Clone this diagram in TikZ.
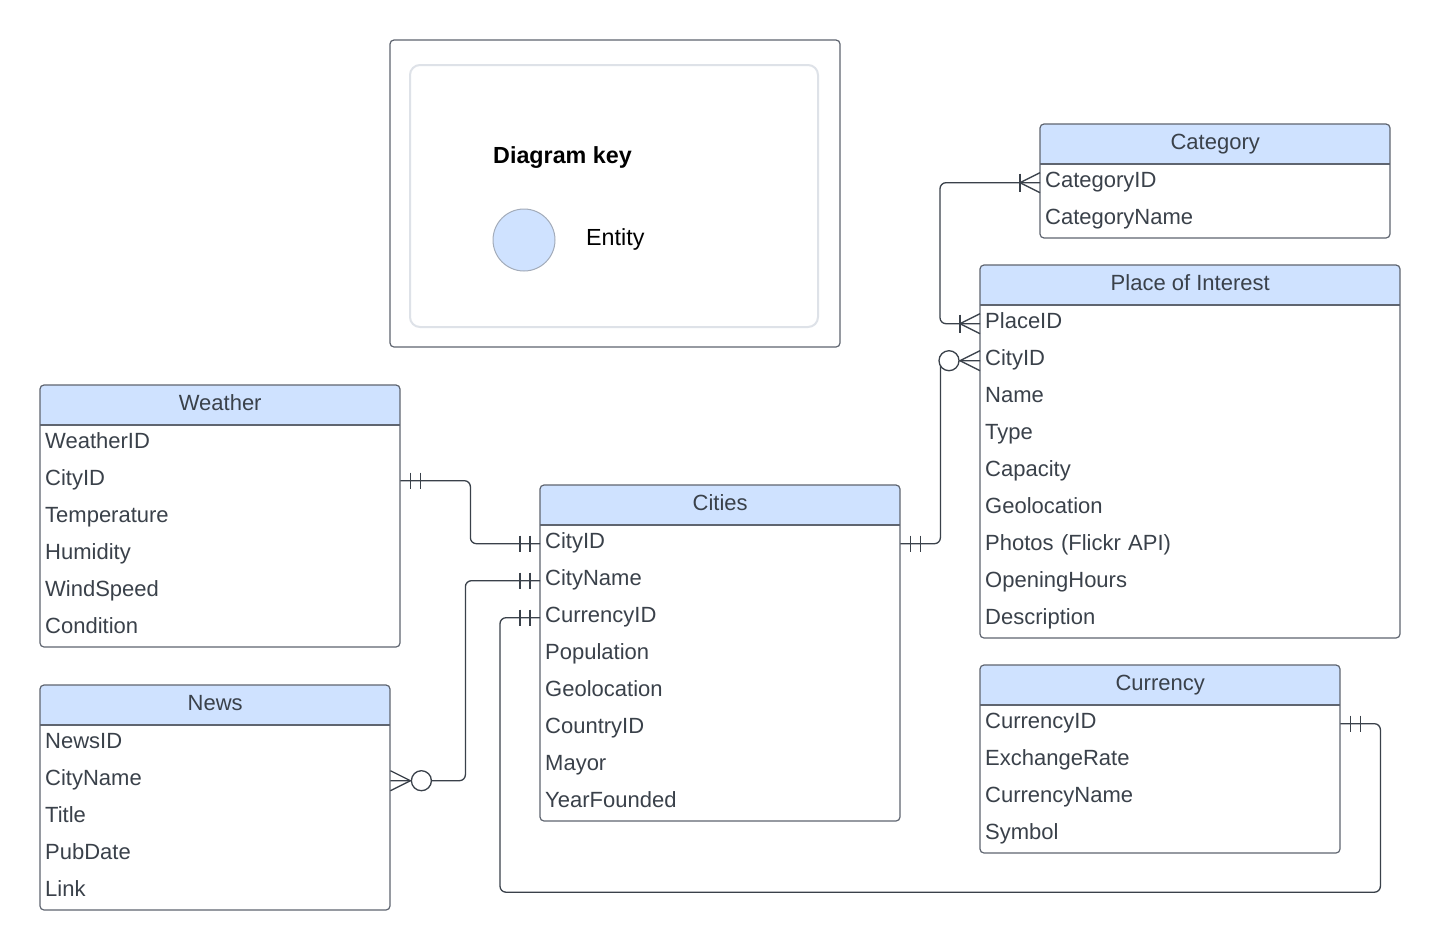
\documentclass[tikz,border=0pt]{standalone}
\usepackage{fontspec}
\setmainfont{Liberation Sans}
\usetikzlibrary{calc}

\definecolor{hdr}{HTML}{CFE2FF}
\definecolor{edgegray}{HTML}{5F6570}
\definecolor{ink}{HTML}{3A414A}
\definecolor{keyin}{HTML}{DEE2E8}
\definecolor{circgray}{HTML}{A3ACBA}

\tikzset{
  x=1pt, y=-1pt,
  txt/.style={font=\fontsize{22}{27}\selectfont, text=ink,
    text height=15.8pt, text depth=5.6pt},
  attr/.style={txt, inner xsep=5pt, inner ysep=0pt, minimum height=37pt, align=left},
  etitle/.style={txt, inner sep=0pt, minimum height=40pt},
  frame/.style={draw=edgegray, line width=1.2pt},
  conn/.style={draw=ink, line width=1.3pt},
  link/.style={conn, rounded corners=6pt},
}

% entity table: #1 name, #2 left x, #3 top y, #4 width, #5 title, #6 attributes
\newcommand\erentity[6]{%
  \pgfmathsetlengthmacro\erw{#4-10}%
  \foreach \r [count=\i] in {#6}{%
    \node[attr, text width=\erw, anchor=north west] (#1-\i) at (#2,{#3+40+37*(\i-1)}) {\r};
    \xdef\ercount{\i}}%
  \pgfmathsetmacro\erbot{#3+40+37*\ercount}%
  \begin{scope}
    \clip[rounded corners=4pt] (#2,#3) rectangle ({#2+#4},\erbot);
    \fill[hdr] (#2,#3) rectangle ({#2+#4},{#3+40});
  \end{scope}
  \node[etitle, minimum width=#4, anchor=north west] (#1) at (#2,#3) {#5};
  \draw[frame] (#2,{#3+40}) -- ({#2+#4},{#3+40});
  \draw[frame, rounded corners=4pt] (#2,#3) rectangle ({#2+#4},\erbot);
}

% relationship end marks: #1 anchor on the table edge, #2 direction (1 = right, -1 = left)
\newcommand\twobar[2]{%
  \draw[conn] ([xshift={#2*10}]#1) ++(0,-8) -- ++(0,16)
              ([xshift={#2*20}]#1) ++(0,-8) -- ++(0,16);}
\newcommand\onebar[2]{%
  \draw[conn] ([xshift={#2*20}]#1) ++(0,-9) -- ++(0,18);}
\newcommand\crowfoot[2]{%
  \draw[conn] ([xshift={#2*20}]#1) -- ([yshift=10pt]#1)
              ([xshift={#2*20}]#1) -- ([yshift=-10pt]#1);}
\newcommand\zeroring[2]{%
  \draw[conn, fill=white] ([xshift={#2*31}]#1) circle[radius=10pt];}

\begin{document}
\begin{tikzpicture}
\useasboundingbox (0,0) rectangle (1440,951);
\fill[white] (0,0) rectangle (1440,951);

% diagram key
\draw[frame, rounded corners=4pt] (390,40) rectangle (840,347);
\draw[keyin, line width=2pt, rounded corners=10pt] (410,65) rectangle (818,327);
\node[font=\fontsize{23.3}{28}\selectfont\bfseries, anchor=base west, inner sep=0pt]
  (keytitle) at (493,163) {Diagram key};
\node[circle, fill=hdr, draw=circgray, line width=1pt, minimum size=62pt, inner sep=0pt]
  (keycirc) at (524,240) {};
\node[font=\fontsize{23.3}{28}\selectfont, anchor=base west, inner sep=0pt]
  (keyentity) at (586,245) {Entity};

% entities
\erentity{weather}{40}{385}{360}{Weather}{WeatherID,CityID,Temperature,Humidity,WindSpeed,Condition}
\erentity{news}{40}{685}{350}{News}{NewsID,CityName,Title,PubDate,Link}
\erentity{cities}{540}{485}{360}{Cities}{CityID,CityName,CurrencyID,Population,Geolocation,CountryID,Mayor,YearFounded}
\erentity{category}{1040}{124}{350}{Category}{CategoryID,CategoryName}
\erentity{poi}{980}{265}{420}{Place of Interest}{PlaceID,CityID,Name,Type,Capacity,Geolocation,Photos (Flickr API),OpeningHours,Description}
\erentity{currency}{980}{665}{360}{Currency}{CurrencyID,ExchangeRate,CurrencyName,Symbol}

% relationships
\draw[link] (weather-2.east) -- ++(70,0) |- (cities-1.west);
\twobar{weather-2.east}{1}
\twobar{cities-1.west}{-1}

\draw[link] (news-2.east) -- ++(75,0) |- (cities-2.west);
\crowfoot{news-2.east}{1}
\zeroring{news-2.east}{1}
\twobar{cities-2.west}{-1}

\draw[link] (cities-3.west) -- ++(-40,0) -- ++(0,274.5) -| ([xshift=40pt]currency-1.east) -- (currency-1.east);
\twobar{cities-3.west}{-1}
\twobar{currency-1.east}{1}

\draw[link] (cities-1.east) -- ++(40,0) |- (poi-2.west);
\twobar{cities-1.east}{1}
\crowfoot{poi-2.west}{-1}
\zeroring{poi-2.west}{-1}

\draw[link] (category-1.west) -- ++(-100,0) |- (poi-1.west);
\crowfoot{category-1.west}{-1}
\onebar{category-1.west}{-1}
\crowfoot{poi-1.west}{-1}
\onebar{poi-1.west}{-1}
\end{tikzpicture}
\end{document}
